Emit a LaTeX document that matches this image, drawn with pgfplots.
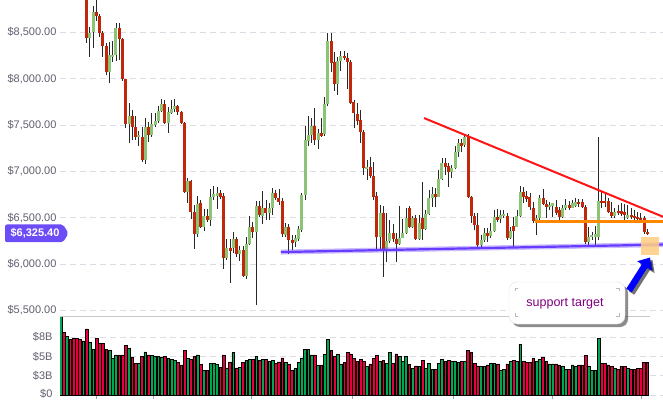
\documentclass[border=0pt]{standalone}
\usepackage{fontspec}
\setmainfont{Liberation Sans}
\usepackage{pgfplots}
\usepackage{pgfplotstable}
\pgfplotsset{compat=1.18}
\usetikzlibrary{arrows.meta}
\definecolor{cgreen}{RGB}{138,196,116}
\definecolor{cred}{RGB}{192,40,12}
\definecolor{wick}{RGB}{40,40,40}
\definecolor{vgreen}{RGB}{0,168,80}
\definecolor{vred}{RGB}{232,0,60}
\definecolor{lbl}{RGB}{95,95,110}
\definecolor{gridc}{RGB}{220,220,228}
\definecolor{tagc}{RGB}{108,76,246}
\definecolor{supp}{RGB}{104,60,255}
\definecolor{trred}{RGB}{255,20,20}
\definecolor{trorange}{RGB}{255,135,0}
\definecolor{boxor}{RGB}{255,205,130}
\definecolor{callt}{RGB}{128,0,128}
\definecolor{sepc}{RGB}{200,200,205}
\newcommand{\pxy}[2]{(#1pt,{(399-#2)*1pt})}

\pgfplotstableread{
i o h l c v
-1 9050 9200 9000 9150 10.5
0 9150 9220 9050 9080 8.1
1 9080 9260 9040 9200 7.6
2 9200 9250 9080 9120 7.2
3 9120 9180 9000 9060 7.35
4 9060 9120 8960 9000 7.35
5 9000 9060 8900 8930 7.25
6 8900 9000 8880 8960 7.0
7 8960 9000 8385 8435 8.55
8 8435 8560 8237 8489 6.8
9 8500 8784 8331 8716 5.9
10 8716 8870 8620 8679 7.35
11 8679 8700 8453 8489 6.7
12 8489 8514 8237 8355 6.7
13 8355 8380 8039 8075 5.9
14 8075 8399 7956 8255 5.8
15 8230 8406 8183 8255 4.75
16 8255 8604 8194 8543 5.2
17 8543 8597 8201 8428 5.2
18 8428 8440 7978 7996 5.2
19 7996 8000 7471 7511 6.4
20 7511 7734 7302 7597 6.0
21 7597 7662 7338 7481 4.9
22 7481 7597 7338 7367 4.1
23 7367 7438 7273 7392 4.1
24 7374 7478 7104 7122 5.05
25 7122 7572 7079 7481 5.6
26 7481 7535 7320 7392 5.2
27 7392 7626 7374 7511 5.1
28 7505 7626 7481 7546 5.0
29 7546 7705 7525 7654 5.0
30 7654 7780 7643 7726 4.9
31 7726 7770 7510 7518 5.0
32 7518 7691 7410 7640 4.75
33 7632 7770 7619 7676 4.6
34 7676 7777 7643 7705 4.45
35 7705 7716 7608 7637 4.2
36 7637 7650 7510 7525 3.9
37 7525 7530 6763 6780 5.8
38 6780 6925 6661 6896 4.75
39 6896 6906 6486 6564 4.6
40 6558 6637 6159 6320 5.0
41 6320 6734 6295 6644 5.2
42 6655 6690 6385 6402 4.0
43 6402 6590 6359 6518 3.2
44 6518 6590 6456 6475 3.2
45 6475 6809 6413 6726 4.1
46 6726 6842 6690 6755 4.1
47 6737 6828 6590 6763 4.0
48 6763 6798 6701 6726 3.6
49 6734 6766 5946 6061 5.2
50 6061 6266 6043 6169 3.5
51 6169 6266 5798 6143 4.3
52 6169 6349 6115 6266 5.5
53 6266 6288 6079 6105 3.5
54 6105 6197 6036 6151 3.6
55 6151 6194 5856 5874 4.2
56 5874 6288 5835 6216 4.5
57 6216 6518 6205 6402 4.6
58 6402 6456 6277 6348 4.6
59 6348 6683 5558 6626 5.0
60 6626 6683 6510 6529 4.5
61 6520 6788 6431 6608 4.6
62 6608 6690 6475 6547 4.6
63 6547 6655 6475 6608 4.4
64 6608 6817 6529 6763 4.5
65 6763 6798 6690 6715 4.1
66 6709 6806 6637 6672 4.3
67 6680 6712 6295 6320 4.8
68 6313 6439 6295 6396 4.2
69 6396 6431 6105 6259 4.0
70 6259 6313 6151 6230 3.2
71 6238 6313 6187 6277 3.4
72 6270 6410 6251 6374 4.2
73 6367 6770 6349 6745 4.8
74 6745 7489 6690 7338 5.9
75 7330 7597 7273 7392 5.9
76 7392 7572 7302 7489 5.2
77 7489 7680 7284 7338 5.2
78 7338 7453 7238 7410 3.8
79 7410 7572 7374 7384 3.9
80 7400 7805 7381 7726 5.3
81 7726 8496 7708 8406 7.2
82 8406 8496 8075 8172 5.74
83 8183 8291 7870 7942 4.97
84 7942 8237 7823 8190 5.27
85 8190 8298 8086 8244 4.02
86 8244 8298 8201 8219 4.19
87 8226 8277 7888 8183 5.52
88 8183 8200 7726 7740 5.31
89 7751 7770 7464 7626 4.75
90 7619 7734 7500 7546 4.32
91 7554 7662 7309 7427 4.62
92 7427 7446 6960 7033 4.32
93 7025 7122 6906 7050 3.67
94 7043 7158 6925 6953 4.02
95 6953 7104 6690 6726 4.75
96 6734 6777 6151 6295 5.18
97 6295 6637 6151 6547 4.32
98 6547 6629 5863 6151 4.45
99 6151 6553 6025 6248 4.1
100 6248 6475 6223 6331 5.52
101 6331 6431 6241 6270 4.1
102 6270 6331 6018 6212 5.31
103 6212 6629 6205 6277 4.97
104 6277 6482 6277 6331 4.32
105 6331 6601 6324 6500 4.97
106 6601 6629 6385 6402 3.97
107 6402 6518 6385 6500 3.46
108 6493 6529 6259 6270 3.76
109 6270 6529 6259 6439 3.67
110 6493 6888 6259 6374 4.53
111 6374 6583 6367 6540 3.46
112 6540 6798 6529 6709 4.1
113 6709 6834 6618 6755 3.33
114 6755 6817 6618 6726 3.33
115 6726 7014 6720 6914 4.1
116 6914 7147 6906 7087 4.62
117 7087 7147 6960 7050 4.32
118 7057 7090 6831 6996 4.53
119 6996 7068 6925 7032 4.32
120 7032 7273 7022 7212 4.32
121 7212 7345 7158 7309 4.19
122 7309 7345 7212 7273 4.32
123 7281 7392 7266 7374 4.32
124 7381 7403 6709 6720 5.74
125 6720 6734 6439 6518 5.52
126 6518 6547 6367 6418 4.1
127 6418 6547 6180 6205 3.76
128 6205 6313 6180 6259 3.67
129 6259 6385 6241 6331 3.67
130 6331 6385 6241 6305 3.89
131 6305 6439 6277 6359 4.1
132 6359 6583 6349 6504 4.1
133 6504 6590 6456 6475 4.02
134 6490 6583 6445 6526 3.15
135 6518 6583 6493 6540 3.33
136 6518 6547 6259 6277 4.02
137 6277 6402 6266 6359 4.32
138 6410 6510 6187 6359 4.45
139 6402 6583 6396 6518 4.32
140 6518 6842 6510 6780 6.56
141 6780 6828 6655 6726 4.40
142 6734 6791 6672 6698 4.23
143 6720 6763 6583 6612 4.23
144 6608 6672 6439 6464 4.75
145 6464 6529 6313 6500 4.40
146 6500 6745 6475 6709 4.62
147 6709 6809 6637 6647 4.88
148 6647 6690 6493 6618 4.32
149 6612 6672 6583 6637 4.02
150 6630 6662 6504 6655 4.02
151 6612 6690 6529 6547 4.02
152 6582 6615 6475 6510 3.89
153 6510 6637 6496 6601 3.76
154 6601 6701 6583 6637 3.33
155 6637 6680 6583 6608 3.33
156 6608 6690 6604 6655 3.89
157 6625 6716 6615 6672 3.67
158 6672 6701 6615 6647 3.89
159 6672 6701 6601 6612 3.89
160 6612 6637 6216 6241 5.18
161 6241 6402 6205 6288 3.76
162 6288 6345 6259 6313 3.15
163 6295 6410 6205 6324 3.15
164 6295 7374 6259 6680 7.34
165 6680 6791 6601 6655 4.1
166 6680 6763 6615 6660 4.1
167 6680 6709 6547 6565 3.89
168 6560 6669 6496 6515 3.67
169 6515 6600 6496 6560 3.46
170 6572 6637 6529 6547 3.33
171 6572 6658 6518 6536 3.67
172 6565 6647 6456 6529 3.67
173 6500 6637 6486 6529 3.46
174 6529 6604 6486 6504 3.33
175 6518 6583 6475 6493 3.33
176 6510 6561 6464 6482 3.46
177 6500 6550 6467 6482 3.46
178 6493 6518 6324 6342 4.23
179 6342 6378 6313 6325.4 4.23
}\ohlc

\begin{document}
\begin{tikzpicture}
% ---------------- price panel ----------------
\begin{axis}[
  at={(60pt,83pt)}, anchor=south west,
  width=603pt, height=316pt, scale only axis,
  xmin=-1.166, xmax=183.8, ymin=5439, ymax=8849,
  axis line style={draw=none},
  xtick=\empty,
  ytick={5500,6000,6500,7000,7500,8000,8500},
  yticklabels={{\$5,500.00},{\$6,000.00},{\$6,500.00},{\$7,000.00},{\$7,500.00},{\$8,000.00},{\$8,500.00}},
  ytick style={draw=none},
  yticklabel style={font=\fontsize{11}{13}\selectfont, text=lbl},
  ymajorgrids,
  grid style={gridc, dash pattern=on 6pt off 4pt, line width=0.8pt},
  unbounded coords=discard,
]
% wicks
\addplot[draw=none, mark=none,
  error bars/.cd, y dir=both, y explicit, error mark=none,
  error bar style={line width=0.85pt, draw=wick, solid}]
  table[x=i, y expr={(\thisrow{h}+\thisrow{l})/2}, y error expr={(\thisrow{h}-\thisrow{l})/2}] {\ohlc};
% green bodies
\addplot[draw=none, mark=none,
  error bars/.cd, y dir=both, y explicit, error mark=none,
  error bar style={line width=3pt, draw=cgreen, solid}]
  table[x=i, y expr={\thisrow{c}>=\thisrow{o} ? (\thisrow{o}+\thisrow{c})/2 : nan},
        y error expr={max(abs(\thisrow{c}-\thisrow{o})/2,8)}] {\ohlc};
% red bodies
\addplot[draw=none, mark=none,
  error bars/.cd, y dir=both, y explicit, error mark=none,
  error bar style={line width=3pt, draw=cred, solid}]
  table[x=i, y expr={\thisrow{c}<\thisrow{o} ? (\thisrow{o}+\thisrow{c})/2 : nan},
        y error expr={max(abs(\thisrow{c}-\thisrow{o})/2,8)}] {\ohlc};
% trend lines
\addplot[supp, opacity=0.35, line width=5pt] coordinates {(66.6,6129) (183.8,6210)};
\addplot[supp, line width=2.2pt] coordinates {(66.6,6129) (183.8,6210)};
\addplot[trorange, line width=2.2pt] coordinates {(144.5,6458) (183.8,6458)};
\addplot[trred, line width=2pt] coordinates {(110.5,7575) (183.8,6510)};
\fill[boxor, opacity=0.88] (axis cs:177.0,6097) rectangle (axis cs:182.6,6294);
\end{axis}

% ---------------- volume panel ----------------
\begin{axis}[
  at={(60pt,4pt)}, anchor=south west,
  width=603pt, height=79pt, scale only axis,
  xmin=-1.166, xmax=183.8, ymin=0, ymax=10.23,
  axis line style={draw=none},
  xtick={9.9,27.4,57.4,88.4,119.4,149.8,177}, xticklabels={},
  xtick pos=left, tick align=outside, major tick length=4pt,
  xtick style={draw=lbl!60, line width=0.6pt},
  ytick={0,2.5,5,7.5},
  yticklabels={{\raisebox{2.5pt}{\$0}},{\$3B},{\$5B},{\$8B}},
  ytick style={draw=none},
  yticklabel style={font=\fontsize{11}{13}\selectfont, text=lbl},
  ymajorgrids,
  grid style={gridc, dash pattern=on 6pt off 4pt, line width=0.8pt},
  unbounded coords=discard,
]
\addplot[ybar, bar width=0.84, bar shift=0pt, fill=vgreen, draw=black, line width=0.5pt]
  table[x=i, y expr={\thisrow{c}>=\thisrow{o} ? \thisrow{v} : nan}] {\ohlc};
\addplot[ybar, bar width=0.84, bar shift=0pt, fill=vred, draw=black, line width=0.5pt]
  table[x=i, y expr={\thisrow{c}<\thisrow{o} ? \thisrow{v} : nan}] {\ohlc};
\end{axis}

% separator between panels
\draw[sepc, line width=1pt] \pxy{60}{316} -- \pxy{650}{316};

% current price tag
\fill[tagc, rounded corners=2pt] \pxy{5}{224.5} -- \pxy{63}{224.5} -- \pxy{68.5}{233.3} -- \pxy{63}{242.2} -- \pxy{5}{242.2} -- cycle;
\node[text=white, font=\bfseries\fontsize{11}{13}\selectfont, inner sep=0pt] at \pxy{35}{233.5} {\$6,325.40};

% blue arrow
\draw[line width=6.5pt, black, opacity=0.55, -{Triangle[length=10pt,width=17pt]}] \pxy{631.5}{293} -- \pxy{652.5}{260};
\draw[line width=6.5pt, blue, -{Triangle[length=10pt,width=17pt]}] \pxy{629}{290.5} -- \pxy{650}{257.5};

% callout
\fill[black, opacity=0.45, rounded corners=8pt] \pxy{512}{285} rectangle \pxy{628}{327};
\filldraw[fill=white, draw={rgb,255:red,225;green,225;blue,225}, rounded corners=8pt] \pxy{509}{282} rectangle \pxy{625}{324};
\draw[gray!55, line width=0.6pt] \pxy{515}{291} -- \pxy{515}{288.5} -- \pxy{518}{288.5};
\draw[gray!55, line width=0.6pt] \pxy{616}{288.5} -- \pxy{619}{288.5} -- \pxy{619}{291};
\draw[gray!55, line width=0.6pt] \pxy{515}{313} -- \pxy{515}{316} -- \pxy{518}{316};
\draw[gray!55, line width=0.6pt] \pxy{616}{316} -- \pxy{619}{316} -- \pxy{619}{313};
\node[text=callt, font=\fontsize{12.5}{14}\selectfont] at \pxy{565}{303.5} {support target};

\pgfresetboundingbox
\useasboundingbox (0,0) rectangle (663pt,399pt);
\end{tikzpicture}
\end{document}
